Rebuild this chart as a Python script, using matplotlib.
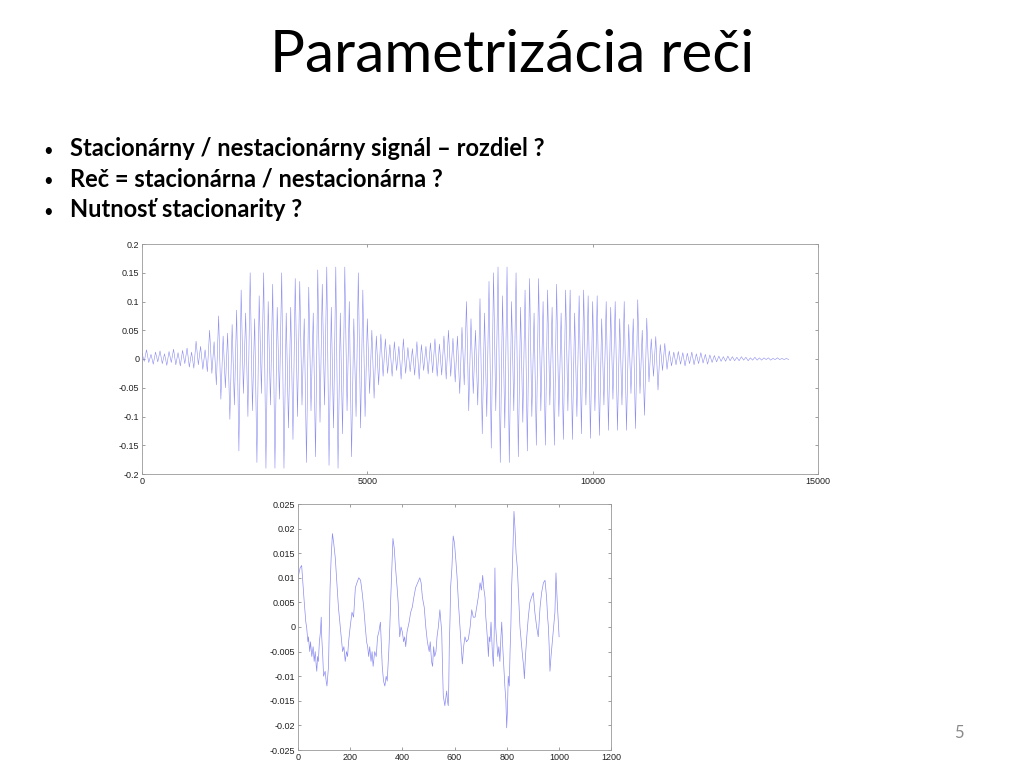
import numpy as np
import matplotlib
matplotlib.use("Agg")
import matplotlib.pyplot as plt

# slide text
title = "Parametrizácia reči"
bullets = [
    "Stacionárny / nestacionárny signál – rozdiel ?",
    "Reč = stacionárna / nestacionárna ?",
    "Nutnosť stacionarity ?",
]
page_no = "5"

# whole utterance: extreme values, one every 50 samples
wave_step = 50
wave_vals = [
    # 0 - 1450 (silence / noise)
    0.010, -0.004, 0.016, -0.006, 0.008, -0.009, 0.012, -0.005, 0.014, -0.008,
    0.009, -0.011, 0.013, -0.006, 0.017, -0.010, 0.011, -0.012, 0.015, -0.008,
    0.019, -0.014, 0.012, -0.016, 0.031, -0.010, 0.022, -0.018, 0.016, -0.022,
    # 1500 - 1950 (onset)
    0.050, -0.025, 0.030, -0.045, 0.075, -0.070, 0.040, -0.050, 0.045, -0.105,
    # 2000 - 4950 (first voiced part)
    0.060, -0.080, 0.085, -0.160, 0.120, -0.060, 0.080, -0.100, 0.150, -0.090,
    0.070, -0.180, 0.110, -0.060, 0.150, -0.190, 0.100, -0.080, 0.130, -0.190,
    0.090, -0.070, 0.150, -0.190, 0.080, -0.120, 0.090, -0.140, 0.140, -0.100,
    0.135, -0.080, 0.070, -0.180, 0.125, -0.090, 0.080, -0.170, 0.155, -0.110,
    0.130, -0.080, 0.160, -0.185, 0.090, -0.120, 0.160, -0.190, 0.080, -0.130,
    0.160, -0.090, 0.100, -0.170, 0.070, -0.100, 0.150, -0.120, 0.120, -0.100,
    # 5000 - 5450
    0.070, -0.060, 0.050, -0.068, 0.040, -0.045, 0.043, -0.030, 0.035, -0.025,
    # 5500 - 6950 (unvoiced)
    0.025, -0.030, 0.030, -0.020, 0.022, -0.035, 0.035, -0.025, 0.020, -0.022,
    0.018, -0.028, 0.030, -0.035, 0.025, -0.020, 0.022, -0.026, 0.028, -0.024,
    0.035, -0.030, 0.026, -0.028, 0.040, -0.035, 0.050, -0.030, 0.036, -0.040,
    # 7000 - 7450
    0.040, -0.060, 0.055, -0.045, 0.100, -0.090, 0.070, -0.060, 0.050, -0.080,
    # 7500 - 10450 (second voiced part)
    0.105, -0.130, 0.080, -0.100, 0.135, -0.155, 0.150, -0.090, 0.160, -0.180,
    0.110, -0.120, 0.160, -0.180, 0.100, -0.090, 0.150, -0.170, 0.090, -0.110,
    0.120, -0.160, 0.140, -0.100, 0.080, -0.150, 0.140, -0.090, 0.100, -0.150,
    0.120, -0.080, 0.090, -0.150, 0.130, -0.100, 0.080, -0.140, 0.120, -0.090,
    0.120, -0.140, 0.080, -0.100, 0.110, -0.130, 0.120, -0.080, 0.110, -0.138,
    0.100, -0.090, 0.110, -0.133, 0.070, -0.080, 0.100, -0.124, 0.090, -0.070,
    # 10500 - 11650 (decay)
    0.100, -0.124, 0.070, -0.080, 0.100, -0.124, 0.060, -0.060, 0.070, -0.121,
    0.103, -0.060, 0.050, -0.098, 0.071, -0.040, 0.035, -0.030, 0.039, -0.054,
    0.025, -0.020, 0.027, -0.018,
    # 11700 - 14350 (tail)
    0.014, -0.012, 0.012, -0.010, 0.013, -0.009, 0.011, -0.012, 0.010, -0.008,
    0.012, -0.010, 0.009, -0.008, 0.011, -0.007, 0.008, -0.009, 0.007, -0.006,
    0.006, -0.005, 0.005, -0.004, 0.004, -0.004, 0.005, -0.003, 0.004, -0.003,
    0.003, -0.003, 0.004, -0.002, 0.003, -0.003, 0.002, -0.002, 0.003, -0.002,
    0.002, -0.002, 0.002, -0.001, 0.002, -0.002, 0.001, -0.001, 0.002, -0.001,
    0.001, -0.001, 0.001, -0.001,
]

# short frame (~1000 samples)
frame_x = [
    0, 8, 14, 20, 24, 30, 33, 38, 40, 45,
    48, 53, 58, 62, 66, 70, 72, 75, 78, 82,
    86, 89, 91, 95, 98, 104, 108, 111, 114, 117,
    120, 123, 127, 132, 137, 143, 149, 155, 162, 167,
    171, 176, 181, 186, 190, 194, 200, 207, 213, 220,
    226, 233, 240, 246, 252, 258, 263, 267, 271, 275,
    280, 284, 288, 294, 300, 305, 310, 316, 320, 323,
    328, 333, 338, 342, 345, 348, 352, 355, 360, 364,
    369, 374, 380, 384, 387, 390, 395, 400, 405, 409,
    413, 418, 422, 426, 432, 438, 444, 451, 459, 467,
    472, 477, 484, 490, 496, 503, 507, 512, 516, 520,
    524, 529, 533, 538, 544, 548, 551, 554, 557, 563,
    570, 573, 576, 578, 580, 583, 585, 590, 595, 600,
    606, 610, 615, 621, 625, 630, 635, 640, 646, 653,
    660, 666, 672, 679, 685, 691, 698, 703, 708, 712,
    717, 720, 723, 727, 730, 733, 736, 740, 745, 749,
    752, 755, 758, 762, 766, 770, 774, 778, 781, 785,
    789, 793, 797, 800, 803, 806, 810, 813, 816, 819,
    823, 828, 832, 836, 841, 846, 851, 856, 861, 865,
    868, 872, 877, 883, 889, 895, 902, 908, 915, 921,
    928, 934, 941, 947, 953, 957, 960, 963, 966, 970,
    975, 980, 985, 989, 994, 998, 1001,
]
frame_y = [
    0.010, 0.012, 0.0125, 0.008, 0.005, 0.001, 0.000, -0.003, -0.002, -0.005,
    -0.003, -0.006, -0.004, -0.007, -0.005, -0.008, -0.009, -0.006, -0.007, -0.003,
    -0.001, 0.002, -0.002, -0.006, -0.010, -0.009, -0.011, -0.012, -0.010, -0.008,
    0.000, 0.008, 0.014, 0.019, 0.017, 0.014, 0.009, 0.004, 0.000, -0.003,
    -0.005, -0.004, -0.007, -0.005, -0.006, -0.003, 0.000, 0.003, 0.002, 0.008,
    0.009, 0.010, 0.0095, 0.007, 0.004, 0.000, -0.003, -0.004, -0.006, -0.004,
    -0.007, -0.005, -0.008, -0.005, -0.006, -0.002, -0.001, 0.001, -0.004, -0.008,
    -0.011, -0.012, -0.010, -0.011, -0.008, -0.005, 0.000, 0.005, 0.012, 0.018,
    0.016, 0.012, 0.008, 0.005, 0.001, -0.002, 0.000, -0.001, -0.003, -0.002,
    -0.004, -0.001, 0.000, 0.001, 0.003, 0.004, 0.006, 0.008, 0.009, 0.010,
    0.009, 0.006, 0.004, 0.000, -0.003, -0.005, -0.003, -0.007, -0.008, -0.004,
    -0.006, -0.005, -0.002, 0.000, 0.0035, 0.001, -0.001, -0.008, -0.014, -0.016,
    -0.013, -0.015, -0.016, -0.012, -0.004, 0.002, 0.008, 0.012, 0.0185, 0.017,
    0.013, 0.010, 0.005, 0.000, -0.003, -0.0075, -0.004, -0.002, -0.003, -0.0025,
    0.000, 0.0035, 0.002, 0.002, 0.004, 0.006, 0.009, 0.0075, 0.0105, 0.008,
    0.006, 0.002, 0.000, -0.003, -0.006, -0.002, -0.003, 0.001, -0.005, -0.008,
    -0.002, 0.012, 0.000, -0.003, -0.006, -0.004, -0.007, -0.002, 0.001, -0.004,
    -0.008, -0.012, -0.015, -0.0205, -0.017, -0.010, -0.012, -0.005, 0.000, 0.008,
    0.014, 0.0235, 0.020, 0.015, 0.012, 0.006, 0.000, -0.003, -0.006, -0.008,
    -0.0105, -0.006, -0.002, 0.002, 0.005, 0.006, 0.007, 0.003, 0.000, -0.002,
    0.004, 0.007, 0.009, 0.0095, 0.006, 0.002, 0.000, -0.004, -0.009, -0.006,
    -0.003, 0.000, 0.003, 0.011, 0.005, 0.001, -0.002,
]

wave_xticks = [0, 5000, 10000, 15000]
wave_yticks = [-0.2, -0.15, -0.1, -0.05, 0, 0.05, 0.1, 0.15, 0.2]
frame_xticks = [0, 200, 400, 600, 800, 1000, 1200]
frame_yticks = [-0.025, -0.02, -0.015, -0.01, -0.005, 0, 0.005, 0.01, 0.015, 0.02, 0.025]

line_col = "#8c8cf2"


def matlab_axes(ax, xticks, yticks):
    ax.set_xticks(xticks)
    ax.set_yticks(yticks)
    ax.set_xticklabels([f"{t:g}" for t in xticks])
    ax.set_yticklabels([f"{t:g}" for t in yticks])
    ax.set_xlim(xticks[0], xticks[-1])
    ax.set_ylim(yticks[0], yticks[-1])
    ax.tick_params(direction="in", length=2.5, width=0.5, top=True, right=True,
                   labelsize=6.5, labelcolor="#222222", color="#777777", pad=2)
    for sp in ax.spines.values():
        sp.set_color("#999999")
        sp.set_linewidth(0.6)
    for lab in ax.get_xticklabels() + ax.get_yticklabels():
        lab.set_family("Liberation Sans")


fig = plt.figure(figsize=(10.24, 7.68), dpi=100)

fig.text(0.5, 1 - 72 / 768, title, ha="center", va="baseline", fontsize=42,
         family="Lato", color="black")
for i, b in enumerate(bullets):
    y = 1 - (156 + 30.5 * i) / 768
    fig.text(0.042, y, "•", ha="left", va="baseline", fontsize=12, family="Lato")
    fig.text(0.0685, y, b, ha="left", va="baseline", fontsize=17,
             family="Lato", fontweight="bold")
fig.text(0.936, 1 - 733 / 768, page_no, ha="center", va="center",
         fontsize=12, family="Lato", color="#8a8a8a")

ax1 = fig.add_axes([142 / 1024, 1 - 474 / 768, 676 / 1024, 230 / 768])
wave_x = np.arange(len(wave_vals)) * wave_step
ax1.plot(wave_x, wave_vals, color=line_col, lw=0.4)
matlab_axes(ax1, wave_xticks, wave_yticks)

ax2 = fig.add_axes([298 / 1024, 1 - 750 / 768, 313 / 1024, 246 / 768])
ax2.plot(frame_x, frame_y, color=line_col, lw=0.5)
matlab_axes(ax2, frame_xticks, frame_yticks)

fig.savefig("out.png", dpi=100)
